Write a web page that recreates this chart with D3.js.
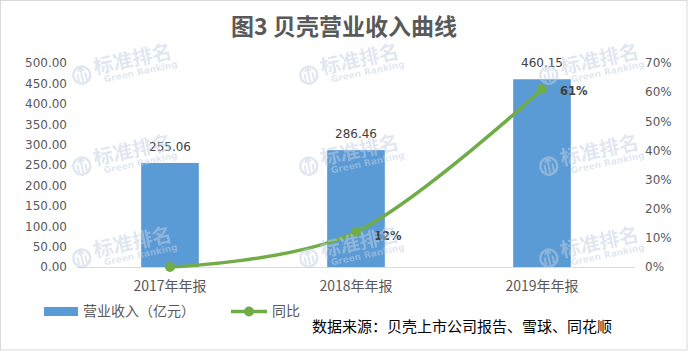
<!DOCTYPE html>
<html>
<head>
<meta charset="utf-8">
<script src="https://cdn.jsdelivr.net/npm/d3@7"></script>
<style>
  html, body { margin: 0; padding: 0; background: #fff; }
  svg { display: block; }
  text { font-family: "DejaVu Sans", sans-serif; }
  .cjk { font-family: "Noto Sans CJK SC", sans-serif; }
</style>
</head>
<body>
<script>
// chart data
const years = ['2017年年报', '2018年年报', '2019年年报'];
const revenue = [255.06, 286.46, 460.15];
const growth = [0, 12, 61];
const growthLabels = ['', '12%', '61%'];
const leftTicks = [0, 50, 100, 150, 200, 250, 300, 350, 400, 450, 500];
const rightTicks = [0, 10, 20, 30, 40, 50, 60, 70];

const WIDTH = 688;
const HEIGHT = 351;
const PLOT_LEFT = 77;
const PLOT_RIGHT = 635;
const PLOT_TOP = 63;
const PLOT_BOT = 267;

const COLOR_BAR = '#5b9bd5';
const COLOR_LINE = '#70ad47';
const COLOR_TEXT = '#595959';

const svg = d3.select('body')
  .append('svg')
    .attr('width', WIDTH)
    .attr('height', HEIGHT);

// outer frame
svg.append('rect')
    .attr('x', 0.5)
    .attr('y', 0.5)
    .attr('width', WIDTH - 1.5)
    .attr('height', HEIGHT - 1.5)
    .attr('fill', '#fff')
    .attr('stroke', '#d9d9d9');

// title
svg.append('text')
    .attr('class', 'cjk')
    .attr('x', 344)
    .attr('y', 35)
    .attr('text-anchor', 'middle')
    .attr('font-size', 23)
    .attr('font-weight', 'bold')
    .attr('fill', COLOR_TEXT)
    .text('图3 贝壳营业收入曲线');

// scales
const x = d3.scaleBand()
    .domain(years)
    .range([PLOT_LEFT, PLOT_RIGHT])
    .paddingInner(0.69)
    .paddingOuter(0.345);

const yLeft = d3.scaleLinear()
    .domain([0, 500])
    .range([PLOT_BOT, PLOT_TOP]);

const yRight = d3.scaleLinear()
    .domain([0, 70])
    .range([PLOT_BOT, PLOT_TOP]);

// left axis
const leftAxis = d3.axisLeft(yLeft)
    .tickValues(leftTicks)
    .tickSize(0)
    .tickPadding(0)
    .tickFormat(d => d.toFixed(2));

svg.append('g')
    .attr('transform', 'translate(67, 0)')
    .call(leftAxis)
    .call(g => g.select('.domain').remove())
    .call(g => g.selectAll('text')
        .attr('font-size', 12)
        .attr('font-family', '"DejaVu Sans", sans-serif')
        .attr('fill', COLOR_TEXT));

// right axis
const rightAxis = d3.axisRight(yRight)
    .tickValues(rightTicks)
    .tickSize(0)
    .tickPadding(0)
    .tickFormat(d => d + '%');

svg.append('g')
    .attr('transform', 'translate(645, 0)')
    .call(rightAxis)
    .call(g => g.select('.domain').remove())
    .call(g => g.selectAll('text')
        .attr('font-size', 12)
        .attr('font-family', '"DejaVu Sans", sans-serif')
        .attr('fill', COLOR_TEXT));

// baseline
svg.append('line')
    .attr('x1', PLOT_LEFT)
    .attr('x2', PLOT_RIGHT)
    .attr('y1', PLOT_BOT + 0.5)
    .attr('y2', PLOT_BOT + 0.5)
    .attr('stroke', '#d9d9d9');

// bars
svg.selectAll('.bar')
  .data(revenue)
  .enter()
  .append('rect')
    .attr('class', 'bar')
    .attr('x', (d, i) => x(years[i]))
    .attr('y', d => yLeft(d))
    .attr('width', x.bandwidth())
    .attr('height', d => yLeft(0) - yLeft(d))
    .attr('fill', COLOR_BAR);

// bar labels
svg.selectAll('.bar-label')
  .data(revenue)
  .enter()
  .append('text')
    .attr('class', 'bar-label')
    .attr('x', (d, i) => x(years[i]) + x.bandwidth() / 2)
    .attr('y', d => yLeft(d) - 12)
    .attr('text-anchor', 'middle')
    .attr('font-size', 12)
    .attr('fill', '#404040')
    .text(d => d.toFixed(2));

// x labels
const xAxis = d3.axisBottom(x).tickSize(0).tickPadding(0);
svg.append('g')
    .attr('transform', `translate(0, ${PLOT_BOT})`)
    .call(xAxis)
    .call(g => g.select('.domain').remove())
    .call(g => g.selectAll('text')
        .attr('class', 'cjk')
        .attr('dy', null)
        .attr('y', 24)
        .attr('font-size', 14)
        .attr('font-family', '"Noto Sans CJK SC", sans-serif')
        .attr('fill', COLOR_TEXT));

// growth line (smoothed like the spreadsheet curve)
const cx = i => x(years[i]) + x.bandwidth() / 2;
const line = d3.line()
    .x((d, i) => cx(i))
    .y(d => yRight(d))
    .curve(d3.curveCatmullRom.alpha(0));

svg.append('path')
    .datum(growth)
    .attr('d', line)
    .attr('fill', 'none')
    .attr('stroke', COLOR_LINE)
    .attr('stroke-width', 3.5)
    .attr('stroke-linecap', 'round');

svg.selectAll('.dot')
  .data(growth)
  .enter()
  .append('circle')
    .attr('class', 'dot')
    .attr('cx', (d, i) => cx(i))
    .attr('cy', d => yRight(d))
    .attr('r', 5)
    .attr('fill', COLOR_LINE);

svg.selectAll('.dot-label')
  .data(growth)
  .enter()
  .append('text')
    .attr('class', 'dot-label')
    .attr('x', (d, i) => cx(i) + 18)
    .attr('y', (d, i) => yRight(d) + (i === 1 ? 8 : 6))
    .attr('font-size', 11.5)
    .attr('font-weight', 'bold')
    .attr('fill', '#404040')
    .text((d, i) => growthLabels[i]);

// watermarks "标准排名 Green Ranking"
const marks = [[73, 77], [300, 77], [540, 77],
               [73, 168], [300, 168], [540, 168],
               [73, 260], [300, 260], [540, 260]];

const wm = svg.append('g')
    .attr('opacity', 0.5)
    .attr('pointer-events', 'none');

marks.forEach(([mx, my]) => {
  const g = wm.append('g')
      .attr('transform', `translate(${mx}, ${my}) rotate(-12)`);
  g.append('circle')
      .attr('cx', 9)
      .attr('cy', 0)
      .attr('r', 8.5)
      .attr('fill', 'none')
      .attr('stroke', '#c3cfe2')
      .attr('stroke-width', 2.5);
  g.append('path')
      .attr('d', 'M5,6 L5,-2 M9,7 L9,-7 M13,6 L13,-2 M6,-4 L9,-8 L12,-4')
      .attr('fill', 'none')
      .attr('stroke', '#c3cfe2')
      .attr('stroke-width', 2);
  g.append('text')
      .attr('class', 'cjk')
      .attr('x', 22)
      .attr('y', 2)
      .attr('font-size', 20)
      .attr('font-weight', 'bold')
      .attr('font-family', '"Noto Sans CJK SC", sans-serif')
      .attr('fill', '#c3cfe2')
      .text('标准排名');
  g.append('text')
      .attr('x', 30)
      .attr('y', 12)
      .attr('font-size', 9)
      .attr('font-weight', 'bold')
      .attr('fill', '#c3cfe2')
      .text('Green Ranking');
});

// legend
svg.append('rect')
    .attr('x', 44)
    .attr('y', 307)
    .attr('width', 34)
    .attr('height', 9)
    .attr('fill', COLOR_BAR);

svg.append('text')
    .attr('class', 'cjk')
    .attr('x', 83)
    .attr('y', 316)
    .attr('font-size', 14)
    .attr('font-family', '"Noto Sans CJK SC", sans-serif')
    .attr('fill', COLOR_TEXT)
    .text('营业收入（亿元）');

svg.append('line')
    .attr('x1', 231)
    .attr('x2', 267)
    .attr('y1', 311.5)
    .attr('y2', 311.5)
    .attr('stroke', COLOR_LINE)
    .attr('stroke-width', 3.5);

svg.append('circle')
    .attr('cx', 249)
    .attr('cy', 311.5)
    .attr('r', 5)
    .attr('fill', COLOR_LINE);

svg.append('text')
    .attr('class', 'cjk')
    .attr('x', 272)
    .attr('y', 316)
    .attr('font-size', 14)
    .attr('font-family', '"Noto Sans CJK SC", sans-serif')
    .attr('fill', COLOR_TEXT)
    .text('同比');

// source note
svg.append('text')
    .attr('class', 'cjk')
    .attr('x', 312)
    .attr('y', 332)
    .attr('font-size', 15)
    .attr('font-family', '"Noto Sans CJK SC", sans-serif')
    .attr('fill', '#000')
    .text('数据来源：贝壳上市公司报告、雪球、同花顺');
</script>
</body>
</html>
